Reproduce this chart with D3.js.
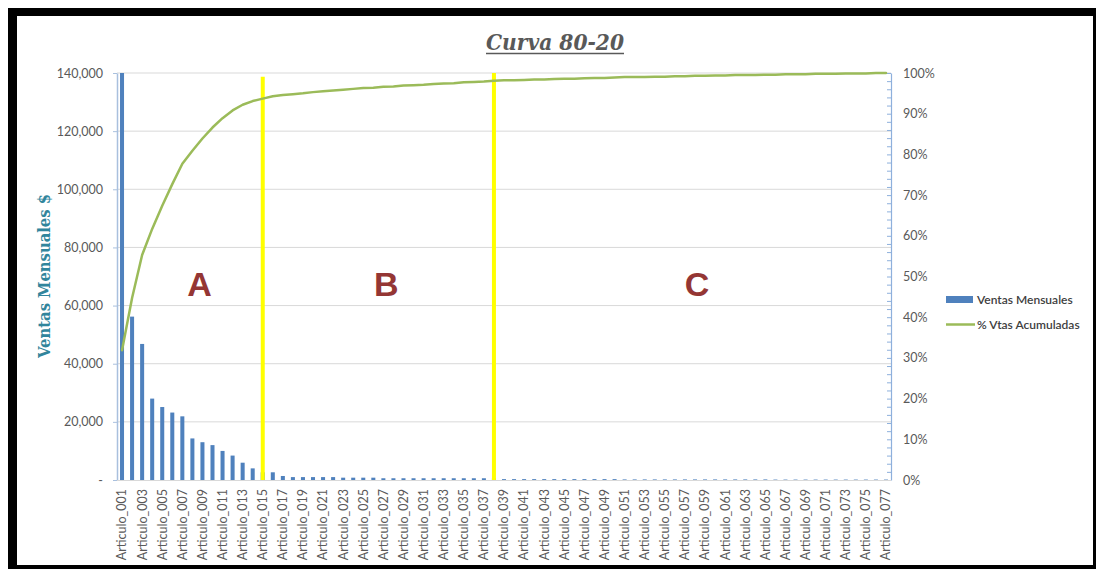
<!DOCTYPE html>
<html>
<head>
<meta charset="utf-8">
<script src="https://cdn.jsdelivr.net/npm/d3@7"></script>
<style>
  body { margin: 0; background: #fff; }
  svg { display: block; }
</style>
</head>
<body>
<svg id="chart" width="1096" height="569"></svg>
<script>
// Item codes Articulo_001 … Articulo_077
const categories = d3.range(1, 78).map(i => "Articulo_" + String(i).padStart(3, "0"));

// Monthly sales per item ($), sorted descending
const ventasMensuales = [
  140000, 56200, 46800, 28000, 25100, 23200, 21900, 14300, 13000, 12000,
  10000, 8400, 5950, 4000, 2650, 2650, 1380, 1000, 1000, 1000,
  1000, 1000, 800, 800, 800, 800, 600, 600, 600, 600,
  600, 600, 600, 600, 600, 600, 600, 600, 300, 300,
  300, 300, 300, 300, 300, 300, 300, 300, 300, 300,
  200, 200, 200, 200, 200, 200, 200, 200, 200, 200,
  200, 200, 200, 200, 200, 150, 150, 150, 150, 150,
  150, 150, 150, 150, 150, 150, 150
];

// Accumulated share of sales (%)
const pctAcumulado = [
  31.9, 44.7, 55.3, 61.7, 67.4, 72.7, 77.7, 80.9, 83.9, 86.6,
  88.9, 90.8, 92.2, 93.1, 93.7, 94.3, 94.6, 94.8, 95.0, 95.3,
  95.5, 95.7, 95.9, 96.1, 96.3, 96.4, 96.6, 96.7, 96.9, 97.0,
  97.1, 97.3, 97.4, 97.5, 97.7, 97.8, 97.9, 98.1, 98.2, 98.2,
  98.3, 98.4, 98.4, 98.5, 98.6, 98.6, 98.7, 98.8, 98.8, 98.9,
  99.0, 99.0, 99.0, 99.1, 99.1, 99.2, 99.2, 99.3, 99.3, 99.4,
  99.4, 99.5, 99.5, 99.5, 99.6, 99.6, 99.7, 99.7, 99.7, 99.8,
  99.8, 99.8, 99.9, 99.9, 99.9, 100.0, 100.0
];

// Axis ticks
const leftTicks = [0, 20000, 40000, 60000, 80000, 100000, 120000, 140000];
const rightTicks = [0, 10, 20, 30, 40, 50, 60, 70, 80, 90, 100];
const rightMinorTicks = d3.range(0, 101, 2);

// ABC zone boundaries (last item of each zone) and zone labels
const zoneCuts = [
  { cat: "Articulo_015", top: 138700 },
  { cat: "Articulo_038", top: 140000 }
];
const zoneLabels = [
  { label: "A", cat: "Articulo_009" },
  { label: "B", cat: "Articulo_027" },
  { label: "C", cat: "Articulo_058" }
];

const seriesNames = ["Ventas Mensuales", "% Vtas Acumuladas"];

const W = 1096, H = 569;
const plot = { left: 117, right: 891, top: 73, bottom: 480 };
const font = "Lato, 'Open Sans', sans-serif";

const svg = d3.select("#chart");

// Frame
svg.append("rect").attr("x", 0).attr("y", 0).attr("width", W).attr("height", H).attr("fill", "#fff");
svg.append("rect").attr("x", 8).attr("y", 8).attr("width", W - 8).attr("height", H - 8).attr("fill", "#000");
svg.append("rect").attr("x", 17).attr("y", 16).attr("width", 1076).attr("height", 549).attr("fill", "#fff");

// Scales
const x = d3.scaleBand().domain(categories)
  .range([plot.left, plot.right]).paddingInner(0.6).paddingOuter(0.3);
const cx = c => x(c) + x.bandwidth() / 2;
const yL = d3.scaleLinear().domain([0, 140000]).range([plot.bottom, plot.top]);
const yR = d3.scaleLinear().domain([0, 100]).range([plot.bottom, plot.top]);

// Gridlines
svg.append("g").selectAll("line").data(leftTicks.filter(d => d > 0)).join("line")
  .attr("x1", plot.left).attr("x2", plot.right)
  .attr("y1", d => yL(d)).attr("y2", d => yL(d))
  .attr("stroke", "#d9d9d9").attr("stroke-width", 1);

// Left axis
const gL = svg.append("g").attr("transform", `translate(${plot.left},0)`)
  .call(d3.axisLeft(yL).tickValues(leftTicks).tickSizeInner(4).tickSizeOuter(0).tickPadding(10)
    .tickFormat(d => d === 0 ? "-" : d3.format(",")(d)));
gL.select(".domain").attr("stroke", "#a9c0de").attr("stroke-width", 1.5);
gL.selectAll(".tick line").attr("stroke", "#a9c0de");
gL.selectAll(".tick text").attr("fill", "#595959").style("font-family", font).style("font-size", "12.5px");

// Right axis: minor ticks + labelled majors
const gR = svg.append("g").attr("transform", `translate(${plot.right},0)`)
  .call(d3.axisRight(yR).tickValues(rightMinorTicks).tickSizeInner(-4).tickSizeOuter(0).tickPadding(12)
    .tickFormat(d => rightTicks.includes(d) ? d + "%" : ""));
gR.select(".domain").attr("stroke", "#8eb0dc").attr("stroke-width", 1.2);
gR.selectAll(".tick line").attr("stroke", "#8eb0dc");
gR.selectAll(".tick text").attr("fill", "#595959").style("font-family", font).style("font-size", "12.5px");

// Category axis baseline
svg.append("line").attr("x1", plot.left).attr("x2", plot.right)
  .attr("y1", plot.bottom + 0.5).attr("y2", plot.bottom + 0.5)
  .attr("stroke", "#d9d9d9").attr("stroke-width", 1);

// Bars
svg.append("g").selectAll("rect").data(categories).join("rect")
  .attr("x", c => x(c))
  .attr("width", x.bandwidth())
  .attr("y", (c, i) => yL(ventasMensuales[i]))
  .attr("height", (c, i) => plot.bottom - yL(ventasMensuales[i]))
  .attr("fill", "#4f81bd");

// Zone cut lines
svg.append("g").selectAll("line").data(zoneCuts).join("line")
  .attr("x1", d => cx(d.cat)).attr("x2", d => cx(d.cat))
  .attr("y1", d => yL(d.top)).attr("y2", plot.bottom)
  .attr("stroke", "#ffff00").attr("stroke-width", 4);

// Accumulated % line
const line = d3.line().x((d, i) => cx(categories[i])).y(d => yR(d));
svg.append("path").datum(pctAcumulado)
  .attr("d", line).attr("fill", "none")
  .attr("stroke", "#9bbb59").attr("stroke-width", 2.5)
  .attr("stroke-linejoin", "round").attr("stroke-linecap", "round");

// Zone letters (small horizontal nudges within their item band)
const letterNudge = { A: -3, B: 3, C: 2 };
svg.append("g").selectAll("text").data(zoneLabels).join("text")
  .attr("x", d => cx(d.cat) + letterNudge[d.label]).attr("y", 296)
  .attr("text-anchor", "middle")
  .attr("fill", "#943634")
  .style("font-family", "'Liberation Sans', Arial, sans-serif")
  .style("font-weight", "bold").style("font-size", "34px")
  .text(d => d.label);

// Category labels (every other item)
svg.append("g").selectAll("text").data(categories.filter((c, i) => i % 2 === 0)).join("text")
  .attr("transform", c => `translate(${cx(c)},489) rotate(-90)`)
  .attr("text-anchor", "end").attr("dy", "0.35em")
  .attr("fill", "#595959")
  .style("font-family", font).style("font-size", "12.5px")
  .text(c => c);

// Title
svg.append("text")
  .attr("x", 555).attr("y", 50).attr("text-anchor", "middle")
  .attr("fill", "#595959")
  .attr("textLength", 138).attr("lengthAdjust", "spacingAndGlyphs")
  .style("font-family", "'DejaVu Serif', serif")
  .style("font-weight", "bold").style("font-style", "italic").style("font-size", "22px")
  .text("Curva 80-20");
svg.append("line").attr("x1", 486).attr("x2", 624).attr("y1", 53.5).attr("y2", 53.5)
  .attr("stroke", "#595959").attr("stroke-width", 1.5);

// Left axis title
svg.append("text")
  .attr("transform", "translate(50,276) rotate(-90)")
  .attr("text-anchor", "middle")
  .attr("fill", "#31859c")
  .attr("textLength", 164).attr("lengthAdjust", "spacingAndGlyphs")
  .style("font-family", "'DejaVu Serif', serif")
  .style("font-weight", "bold").style("font-size", "17px")
  .text("Ventas Mensuales $");

// Legend
const lg = svg.append("g").attr("transform", "translate(946,0)");
lg.append("rect").attr("x", 0).attr("y", 296).attr("width", 27).attr("height", 7).attr("fill", "#4f81bd");
lg.append("line").attr("x1", 0).attr("x2", 29).attr("y1", 324.5).attr("y2", 324.5)
  .attr("stroke", "#9bbb59").attr("stroke-width", 2.5);
lg.selectAll("text").data(seriesNames).join("text")
  .attr("x", 31).attr("y", (d, i) => 299.5 + i * 25).attr("dy", "0.35em")
  .attr("fill", "#404040")
  .style("font-family", font).style("font-size", "12px").style("font-weight", "600")
  .text(d => d);
</script>
</body>
</html>
